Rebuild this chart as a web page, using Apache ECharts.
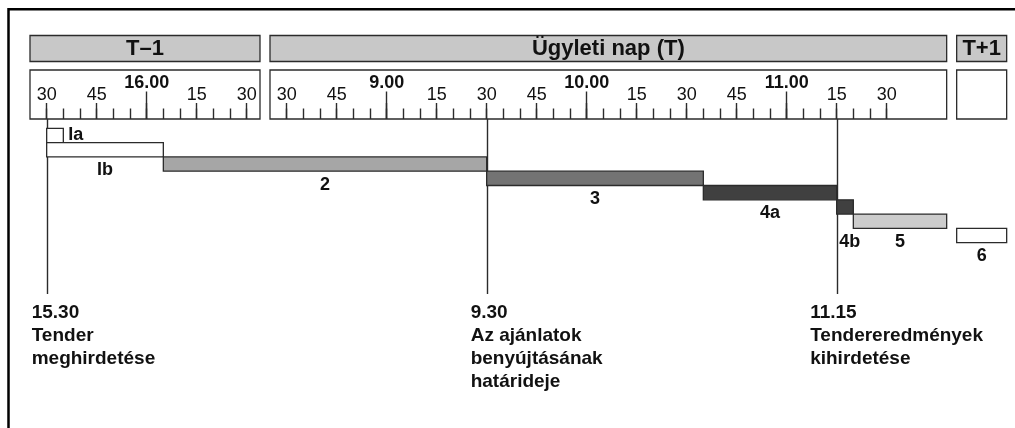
<!DOCTYPE html>
<html><head><meta charset="utf-8">
<script src="https://cdn.jsdelivr.net/npm/echarts@6/dist/echarts.min.js"></script>
<style>html,body{margin:0;padding:0;background:#fff}#c{width:1015px;height:428px}</style>
</head><body><div id="c"></div>
<script>
// ---------------- data ----------------
const panelTitles = ['T–1', 'Ügyleti nap (T)', 'T+1'];
const panelDays   = [-1, 0, 1];
const panelFrom   = ['15:25', '8:25', '8:25'];
const panelTo     = ['16:34', '11:48', '8:40'];

// ruler ticks (every 5 minutes) from..to, per panel
const tickFrom = ['15:30', '8:30', null];
const tickTo   = ['16:30', '11:30', null];
// labelled quarter hours and hours
const minuteLabelTimes = [
  ['15:30', '15:45', '16:15', '16:30'],
  ['8:30', '8:45', '9:15', '9:30', '9:45', '10:15', '10:30', '10:45', '11:15', '11:30'],
  []
];
const hourLabelTimes = [['16:00'], ['9:00', '10:00', '11:00'], []];

// process steps
const barNames    = ['Ia', 'Ib', '2', '3', '4a', '4b', '5', '6'];
const barStartDay = [-1, -1, -1, 0, 0, 0, 0, 1];
const barStart    = ['15:30', '15:30', '16:05', '9:30', '10:35', '11:15', '11:20', '8:25'];
const barEndDay   = [-1, -1, 0, 0, 0, 0, 0, 1];
const barEnd      = ['15:35', '16:05', '9:30', '10:35', '11:15', '11:20', '11:48', '8:40'];

// milestones
const markerDay  = [-1, 0, 0];
const markerTime = ['15:30', '9:30', '11:15'];
const markerText = [
  '15.30\nTender\nmeghirdetése',
  '9.30\nAz ajánlatok\nbenyújtásának\nhatárideje',
  '11.15\nTendereredmények\nkihirdetése'
];

// ---------------- styles / layout ----------------
const barFill = {Ia:'#ffffff', Ib:'#ffffff', '2':'#a6a6a6', '3':'#737373', '4a':'#404040', '4b':'#404040', '5':'#cccccc', '6':'#ffffff'};
const barLabelPlace = {Ia:'right', '4b':'below2'};
const markerTextDx = [-15, -16, -26.5];

const FONT = '"Liberation Sans", Arial, Helvetica, sans-serif';
const INK = '#111';
const LINE = '#2b2b2b';
const PX = 10 / 3;          // pixels per minute
const X0 = 30;
const GAP = 3;              // minutes of empty space between panels
const HEAD_TOP = 35.5, HEAD_H = 26;
const RULER_TOP = 70, RULER_H = 49;
const BARS_TOP = 128.3, ROW_H = 14.3;
const MARK_BOTTOM = 294, TEXT_TOP = 301;

function mins(s) { const p = s.split(':').map(Number); return p[0] * 60 + p[1]; }
const panelLen = panelFrom.map((f, i) => mins(panelTo[i]) - mins(f));
const panelOff = [];
let acc = 0;
panelLen.forEach((l) => { panelOff.push(acc); acc += l + GAP; });
const totalLen = acc - GAP;
// compressed timeline (overnight gaps removed)
function toV(day, t) { const i = panelDays.indexOf(day); return panelOff[i] + mins(t) - mins(panelFrom[i]); }
function range5(a, b) { const out = []; for (let m = mins(a); m <= mins(b); m += 5) out.push(m); return out; }

// ---------------- option ----------------
const grid = [], xAxis = [], yAxis = [], graphic = [];
panelTitles.forEach((title, i) => {
  const left = X0 + panelOff[i] * PX, width = panelLen[i] * PX;
  grid.push({left, top: RULER_TOP, width, height: RULER_H, show: true, backgroundColor: '#fff',
    borderColor: LINE, borderWidth: 1.3, containLabel: false, outerBoundsMode: 'none'});
  yAxis.push({gridIndex: i, type: 'value', show: false, min: 0, max: 1});
  const base = {gridIndex: i, type: 'value', position: 'bottom', min: mins(panelFrom[i]), max: mins(panelTo[i]),
    axisLine: {show: false}, splitLine: {show: false}, splitArea: {show: false}};
  if (tickFrom[i]) {
    const all = range5(tickFrom[i], tickTo[i]);
    xAxis.push(Object.assign({}, base, {
      axisTick: {show: true, inside: true, length: 10.5, customValues: all, lineStyle: {color: LINE, width: 1.4}},
      axisLabel: {show: false}}));
    xAxis.push(Object.assign({}, base, {
      axisTick: {show: true, inside: true, length: 16, customValues: all.filter(m => m % 15 === 0), lineStyle: {color: LINE, width: 1.4}},
      axisLabel: {show: true, inside: true, customValues: minuteLabelTimes[i].map(mins),
        formatter: v => String(v % 60).padStart(2, '0'),
        margin: 24, verticalAlign: 'middle', fontSize: 18, fontFamily: FONT, color: INK}}));
    xAxis.push(Object.assign({}, base, {
      axisTick: {show: true, inside: true, length: 27.5, customValues: hourLabelTimes[i].map(mins), lineStyle: {color: LINE, width: 1.4}},
      axisLabel: {show: true, inside: true, customValues: hourLabelTimes[i].map(mins),
        formatter: v => Math.floor(v / 60) + '.00',
        margin: 36, verticalAlign: 'middle', fontSize: 18, fontWeight: 'bold', fontFamily: FONT, color: INK}}));
  } else {
    xAxis.push(Object.assign({}, base, {show: false}));
  }
  graphic.push({type: 'rect', shape: {x: left, y: HEAD_TOP, width, height: HEAD_H},
    style: {fill: '#c8c8c8', stroke: LINE, lineWidth: 1.3}, z: 5});
  graphic.push({type: 'text', x: left + width / 2, y: HEAD_TOP + HEAD_H / 2 + 0.5,
    style: {text: title, fill: INK, font: 'bold 22px ' + FONT, align: 'center', verticalAlign: 'middle'}, z: 6});
});
graphic.push({type: 'rect', shape: {x: 8.5, y: 9.3, width: 1200, height: 600},
  style: {fill: 'none', stroke: '#000', lineWidth: 2.5}, z: 10});

const barsGrid = grid.length;
grid.push({left: X0, top: BARS_TOP, width: totalLen * PX, height: ROW_H * barNames.length, show: false,
  containLabel: false, outerBoundsMode: 'none'});
const bx = xAxis.length, by = yAxis.length;
xAxis.push({gridIndex: barsGrid, type: 'value', min: 0, max: totalLen, show: false});
yAxis.push({gridIndex: barsGrid, type: 'category', data: barNames, inverse: true, show: false});

const barData = barNames.map((n, i) => [toV(barStartDay[i], barStart[i]), toV(barEndDay[i], barEnd[i]), i]);
const markerData = markerTime.map((t, i) => [toV(markerDay[i], t), 0, i]);

const option = {
  animation: false,
  backgroundColor: '#fff',
  grid, xAxis, yAxis, graphic,
  series: [
    {
      type: 'custom', name: 'milestones', xAxisIndex: bx, yAxisIndex: by, z: 1, clip: false,
      data: markerData,
      encode: {x: 0, y: 1},
      renderItem(params, api) {
        const p = api.coord([api.value(0), api.value(1)]);
        const k = api.value(2);
        const x = Math.round(p[0]) + 0.5;
        return {type: 'group', children: [
          {type: 'line', shape: {x1: x, y1: RULER_TOP + RULER_H, x2: x, y2: MARK_BOTTOM},
            style: {stroke: LINE, lineWidth: 1.4}},
          {type: 'text', x: p[0] + markerTextDx[k], y: TEXT_TOP,
            style: {text: markerText[k], fill: INK, font: 'bold 19px ' + FONT, lineHeight: 23,
              align: 'left', verticalAlign: 'top'}}
        ]};
      }
    },
    {
      type: 'custom', name: 'steps', xAxisIndex: bx, yAxisIndex: by, z: 2, clip: false,
      data: barData,
      encode: {x: [0, 1], y: 2},
      renderItem(params, api) {
        const i = api.value(2);
        const s = api.coord([api.value(0), i]);
        const e = api.coord([api.value(1), i]);
        const h = api.size([0, 1])[1];
        const name = barNames[i];
        const top = s[1] - h / 2;
        const place = barLabelPlace[name] || 'below';
        let tx, ty, align = 'center';
        if (place === 'right') { tx = e[0] + 5; ty = s[1]; align = 'left'; }
        else if (place === 'below2') { tx = s[0] + 2.5; ty = top + h + h + 13.5; align = 'left'; }
        else { tx = (s[0] + e[0]) / 2; ty = top + h + 13.5; }
        return {type: 'group', children: [
          {type: 'rect', shape: {x: s[0], y: top, width: e[0] - s[0], height: h},
            style: {fill: barFill[name], stroke: LINE, lineWidth: 1.3}},
          {type: 'text', x: tx, y: ty,
            style: {text: name, fill: INK, font: 'bold 18px ' + FONT, align, verticalAlign: 'middle'}}
        ]};
      }
    }
  ]
};
const chart = echarts.init(document.getElementById('c'), null, {renderer: 'canvas'});
chart.setOption(option);
</script>
</body></html>
